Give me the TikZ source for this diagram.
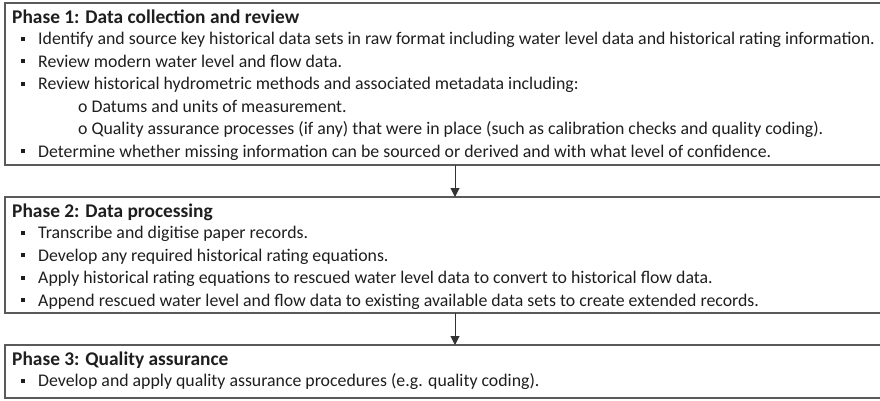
\documentclass[tikz,border=0pt]{standalone}
\usepackage{fontspec}
\setmainfont{Carlito}
\usetikzlibrary{arrows.meta}
\definecolor{boxline}{HTML}{5A5A5A}
\definecolor{txt}{HTML}{1E1E1E}
\tikzset{
  phasebox/.style={draw=boxline, line width=1.3pt, fill=none},
  ttl/.style={anchor=base west, inner sep=0pt, font=\fontsize{19.4}{22}\selectfont\bfseries, text=txt},
  itm/.style={anchor=base west, inner sep=0pt, font=\fontsize{17.8}{20}\selectfont, text=txt},
  bul/.style={fill=txt, draw=none, minimum size=4pt, inner sep=0pt},
  flow/.style={draw=black!80, line width=1pt, -{Triangle[length=9pt,width=9pt]}}
}
\begin{document}
\begin{tikzpicture}[x=1pt,y=-1pt]
\useasboundingbox (0,0) rectangle (880,400);
% boxes
\draw[phasebox] (5,3) rectangle (886,165);
\coordinate (b1n) at (455,3); \coordinate (b1s) at (455,165);
\draw[phasebox] (5,197) rectangle (886,313);
\coordinate (b2n) at (455,197); \coordinate (b2s) at (455,313);
\draw[phasebox] (5,345) rectangle (886,398);
\coordinate (b3n) at (455,345);
% phase 1
\node[ttl] (t1) at (12,23) {Phase 1: Data collection and review};
\node[bul] (u11) at (23,38.7) {}; \node[itm] (i11) at (38,44.5) {Identify and source key historical data sets in raw format including water level data and historical rating information.};
\node[bul] (u12) at (23,61.2) {}; \node[itm] (i12) at (38,67) {Review modern water level and flow data.};
\node[bul] (u13) at (23,83.7) {}; \node[itm] (i13) at (38,89.5) {Review historical hydrometric methods and associated metadata including:};
\node[itm] (s11) at (78,112) {o Datums and units of measurement.};
\node[itm] (s12) at (78,134.5) {o Quality assurance processes (if any) that were in place (such as calibration checks and quality coding).};
\node[bul] (u14) at (23,151.2) {}; \node[itm] (i14) at (38,157) {Determine whether missing information can be sourced or derived and with what level of confidence.};
% phase 2
\node[ttl] (t2) at (12,217) {Phase 2: Data processing};
\node[bul] (u21) at (23,232.7) {}; \node[itm] (i21) at (38,238.5) {Transcribe and digitise paper records.};
\node[bul] (u22) at (23,255.2) {}; \node[itm] (i22) at (38,261) {Develop any required historical rating equations.};
\node[bul] (u23) at (23,277.7) {}; \node[itm] (i23) at (38,283.5) {Apply historical rating equations to rescued water level data to convert to historical flow data.};
\node[bul] (u24) at (23,300.2) {}; \node[itm] (i24) at (38,306) {Append rescued water level and flow data to existing available data sets to create extended records.};
% phase 3
\node[ttl] (t3) at (12,365) {Phase 3: Quality assurance};
\node[bul] (u31) at (23,380.7) {}; \node[itm] (i31) at (38,386.5) {Develop and apply quality assurance procedures (e.g. quality coding).};
% arrows
\draw[flow] (b1s) -- (b2n);
\draw[flow] (b2s) -- (b3n);
\end{tikzpicture}
\end{document}
